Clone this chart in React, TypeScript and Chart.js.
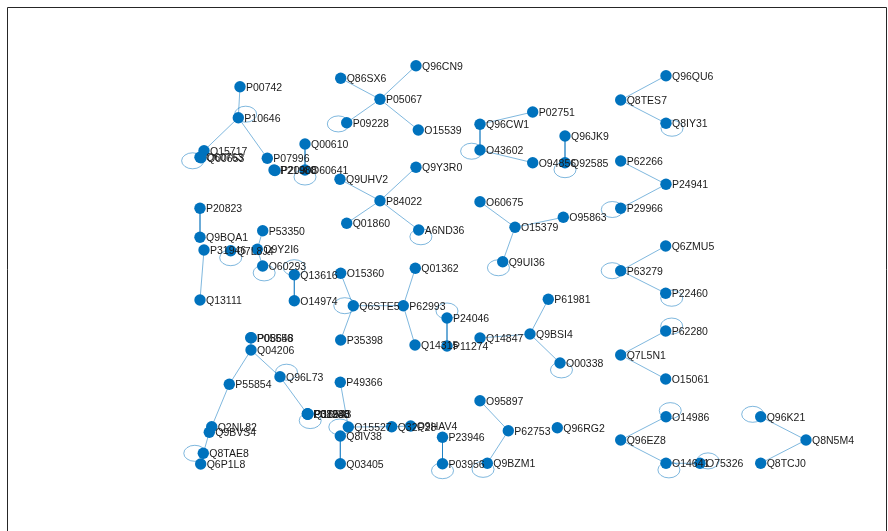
import React, { useEffect, useRef } from "react";
import { Chart, registerables } from "chart.js";

Chart.register(...registerables);

// Node identifiers and layout coordinates (layout units)
const nodeIds = [
  "P00742", "P10646", "Q15717", "O60763", "Q00653", "P07996", "P21980", "P20908", "Q00610", "O60641",
  "Q96CN9", "Q86SX6", "P05067", "P09228", "O15539", "Q9Y3R0", "Q9UHV2", "P84022", "Q01860", "A6ND36",
  "P02751", "Q96CW1", "O43602", "O94856", "Q96JK9", "Q92585", "Q96QU6", "Q8TES7", "Q8IY31", "P62266",
  "P24941", "P29966", "P20823", "Q9BQA1", "P31946", "Q7L8J4", "P53350", "Q9Y2I6", "O60293", "Q13616",
  "O14974", "O15360", "Q13111", "Q01362", "Q6STE5", "P62993", "P35398", "Q14315", "P24046", "P11274",
  "O60675", "O15379", "O95863", "Q9UI36", "P61981", "Q14847", "Q9BSI4", "O00338", "Q6ZMU5", "P63279",
  "P22460", "P62280", "Q7L5N1", "O15061", "P05556", "P08648", "Q04206", "Q96L73", "P55854", "P08238",
  "P07900", "Q16543", "P31948", "Q2NL82", "Q9BVS4", "Q8TAE8", "Q6P1L8", "P49366", "Q15527", "Q8IV38",
  "Q03405", "Q32P28", "Q9HAV4", "P23946", "P03956", "O95897", "P62753", "Q96RG2", "Q9BZM1", "O14986",
  "Q96EZ8", "O14641", "O75326", "Q96K21", "Q8N5M4", "Q8TCJ0",
];

const nodeX = [
  23.2, 23.03, 19.6, 19.2, 19.3, 25.93, 26.6, 26.7, 29.7, 29.7,
  40.8, 33.27, 37.2, 33.87, 41.03, 40.8, 33.2, 37.2, 33.87, 41.07,
  52.47, 47.2, 47.2, 52.47, 55.7, 55.7, 65.8, 61.27, 65.8, 61.27,
  65.8, 61.27, 19.2, 19.2, 19.6, 22.27, 25.47, 24.93, 25.47, 28.63,
  28.63, 33.27, 19.2, 40.73, 34.53, 39.53, 33.27, 40.7, 43.9, 43.9,
  47.2, 50.7, 55.53, 49.47, 54.03, 47.2, 52.2, 55.2, 65.77, 61.27,
  65.77, 65.77, 61.27, 65.77, 24.27, 24.33, 24.3, 27.2, 22.13, 29.93,
  29.97, 30.0, 29.95, 20.37, 20.13, 19.53, 19.27, 33.23, 34.03, 33.23,
  33.23, 38.37, 40.27, 43.45, 43.45, 47.2, 50.03, 54.93, 47.93, 65.8,
  61.27, 65.8, 69.2, 75.27, 79.8, 75.27,
];

const nodeY = [
  7.87, 10.97, 14.27, 14.93, 14.97, 15.03, 16.2, 16.25, 13.6, 16.2,
  5.77, 7.03, 9.13, 11.47, 12.2, 15.93, 17.13, 19.27, 21.53, 22.2,
  10.4, 11.63, 14.2, 15.47, 12.8, 15.47, 6.77, 9.2, 11.53, 15.3,
  17.63, 20.03, 20.03, 22.93, 24.2, 24.27, 22.27, 24.13, 25.8, 26.67,
  29.27, 26.53, 29.2, 26.03, 29.77, 29.77, 33.2, 33.7, 31.0, 33.8,
  19.37, 21.93, 20.93, 25.37, 29.13, 33.0, 32.6, 35.5, 23.8, 26.27,
  28.53, 32.3, 34.7, 37.1, 32.97, 32.97, 34.2, 36.87, 37.63, 40.6,
  40.63, 40.6, 40.57, 41.87, 42.43, 44.53, 45.6, 37.43, 41.9, 42.8,
  45.57, 41.87, 41.8, 42.93, 45.57, 39.27, 42.27, 41.97, 45.53, 40.87,
  43.2, 45.53, 45.53, 40.87, 43.2, 45.53,
];

// Edges (source, target)
const edgeFrom = [
  "P00742", "P10646", "P10646", "Q15717", "Q00610",
  "P05067", "P05067", "P05067", "P05067",
  "P84022", "P84022", "P84022", "P84022",
  "P02751", "Q96CW1", "O43602", "Q96JK9",
  "Q8TES7", "Q8TES7", "P62266", "P24941",
  "P20823", "P31946", "P53350", "Q9Y2I6", "Q13616",
  "O15360", "Q6STE5", "Q6STE5", "Q01362", "P62993", "P24046",
  "O60675", "O15379", "O15379",
  "P61981", "Q14847", "Q9BSI4",
  "P63279", "P63279", "Q7L5N1", "Q7L5N1",
  "Q04206", "Q04206", "Q96L73", "P55854", "Q9BVS4", "Q8TAE8", "Q04206",
  "P49366", "Q8IV38", "Q15527", "Q32P28",
  "P23946", "O95897", "P62753",
  "Q96EZ8", "Q96EZ8", "O14641",
  "Q96K21", "Q8N5M4",
];
const edgeTo = [
  "P10646", "Q15717", "P07996", "O60763", "O60641",
  "Q96CN9", "Q86SX6", "P09228", "O15539",
  "Q9Y3R0", "Q9UHV2", "Q01860", "A6ND36",
  "Q96CW1", "O43602", "O94856", "Q92585",
  "Q96QU6", "Q8IY31", "P24941", "P29966",
  "Q9BQA1", "Q13111", "Q9Y2I6", "O60293", "O14974",
  "Q6STE5", "P62993", "P35398", "P62993", "Q14315", "P11274",
  "O15379", "O95863", "Q9UI36",
  "Q9BSI4", "Q9BSI4", "O00338",
  "Q6ZMU5", "P22460", "P62280", "O15061",
  "P55854", "Q96L73", "P08238", "Q2NL82", "Q8TAE8", "Q6P1L8", "P05556",
  "Q15527", "Q03405", "Q32P28", "Q9HAV4",
  "P03956", "P62753", "Q9BZM1",
  "O14986", "O14641", "O75326",
  "Q8N5M4", "Q8TCJ0",
];

// Self-loop nodes and the direction (degrees, screen) in which each loop is drawn
const loopNodes = [
  "P10646", "O60763", "O60641", "P09228", "A6ND36", "O43602", "Q92585", "Q8IY31", "P29966", "Q7L8J4",
  "O60293", "Q13616", "Q6STE5", "P24046", "Q9UI36", "O00338", "P63279", "P22460", "P62280", "Q96L73",
  "P08238", "Q8TAE8", "Q15527", "P03956", "Q9BZM1", "O14986", "O14641", "O75326", "Q96K21",
];
const loopAngles = [
  -30, 150, 90, 170, 75, 170, 90, 45, 170, 90,
  80, -90, 180, -90, 120, 80, 180, 45, -45, -40,
  70, 180, 180, 90, 120, -60, 70, -20, -160,
];

const NODE_COLOR = "#0072BD";
const EDGE_COLOR = "rgba(0,114,189,0.5)";
const FRAME_COLOR = "#262626";

export default function App() {
  const canvasRef = useRef<HTMLCanvasElement | null>(null);

  useEffect(() => {
    document.documentElement.style.overflow = "hidden";
    const canvas = canvasRef.current;
    if (!canvas) return;

    const idx = (id: string) => nodeIds.indexOf(id);

    const edgeDatasets = edgeFrom.map((f, i) => {
      const a = idx(f);
      const b = idx(edgeTo[i]);
      return {
        type: "line" as const,
        data: [
          { x: nodeX[a], y: nodeY[a] },
          { x: nodeX[b], y: nodeY[b] },
        ],
        borderColor: EDGE_COLOR,
        borderWidth: 1,
        pointRadius: 0,
        pointHoverRadius: 0,
        fill: false,
        showLine: true,
        order: 2,
      };
    });

    const nodeDataset = {
      type: "scatter" as const,
      data: nodeIds.map((_, i) => ({ x: nodeX[i], y: nodeY[i] })),
      backgroundColor: NODE_COLOR,
      borderColor: NODE_COLOR,
      borderWidth: 0,
      pointRadius: 5.7,
      pointHoverRadius: 5.7,
      order: 1,
    };

    const framePlugin = {
      id: "frame",
      beforeDraw(chart: any) {
        const { ctx, chartArea, height } = chart;
        ctx.save();
        ctx.strokeStyle = FRAME_COLOR;
        ctx.lineWidth = 1;
        ctx.beginPath();
        ctx.moveTo(chartArea.left - 0.5, height);
        ctx.lineTo(chartArea.left - 0.5, chartArea.top - 0.5);
        ctx.lineTo(chartArea.right + 0.5, chartArea.top - 0.5);
        ctx.lineTo(chartArea.right + 0.5, height);
        ctx.stroke();
        ctx.restore();
      },
    };

    const loopPlugin = {
      id: "selfLoops",
      beforeDatasetsDraw(chart: any) {
        const { ctx, scales } = chart;
        ctx.save();
        ctx.strokeStyle = EDGE_COLOR;
        ctx.lineWidth = 1;
        loopNodes.forEach((id, k) => {
          const i = idx(id);
          const px = scales.x.getPixelForValue(nodeX[i]);
          const py = scales.y.getPixelForValue(nodeY[i]);
          const a = (loopAngles[k] * Math.PI) / 180;
          const cx = px + Math.cos(a) * 8.5;
          const cy = py + Math.sin(a) * 7;
          ctx.beginPath();
          ctx.ellipse(cx, cy, 11, 8, 0, 0, Math.PI * 2);
          ctx.stroke();
        });
        ctx.restore();
      },
    };

    const labelPlugin = {
      id: "nodeLabels",
      afterDatasetsDraw(chart: any) {
        const { ctx, scales } = chart;
        ctx.save();
        ctx.font = "10.5px 'Liberation Sans', Arial, sans-serif";
        ctx.fillStyle = "#1a1a1a";
        ctx.textBaseline = "middle";
        ctx.textAlign = "left";
        nodeIds.forEach((id, i) => {
          const px = scales.x.getPixelForValue(nodeX[i]);
          const py = scales.y.getPixelForValue(nodeY[i]);
          ctx.fillText(id, px + 6, py + 1);
        });
        ctx.restore();
      },
    };

    const chart = new Chart(canvas, {
      type: "scatter",
      data: { datasets: [...edgeDatasets, nodeDataset] as any },
      options: {
        animation: false,
        responsive: false,
        maintainAspectRatio: false,
        layout: { autoPadding: false, padding: { left: 8, top: 8, right: 2, bottom: 8 } },
        plugins: {
          legend: { display: false },
          tooltip: { enabled: false },
        },
        events: [],
        scales: {
          x: { type: "linear", min: 0, max: 87.8, display: false },
          y: { type: "linear", min: 0, max: 51.5, reverse: true, display: false },
        },
      },
      plugins: [framePlugin, loopPlugin, labelPlugin],
    });

    return () => chart.destroy();
  }, []);

  return (
    <canvas
      ref={canvasRef}
      width={888}
      height={531}
      style={{ position: "fixed", left: 0, top: 0, display: "block", background: "#fff" }}
    />
  );
}
